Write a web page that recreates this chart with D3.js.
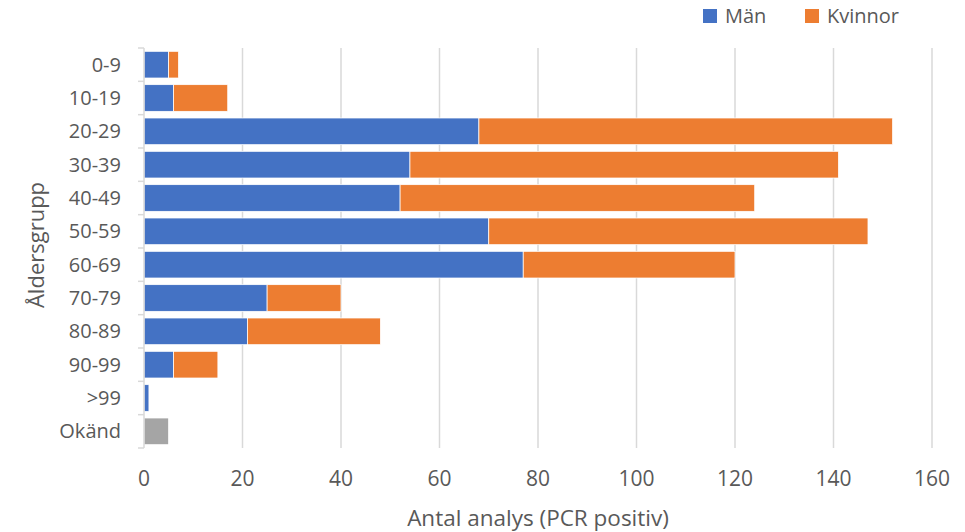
<!DOCTYPE html>
<html>
<head>
<meta charset="utf-8">
<script src="https://cdn.jsdelivr.net/npm/d3@7"></script>
<style>
  body { margin: 0; background: #fff; }
  svg { font-family: "Open Sans", sans-serif; }
</style>
</head>
<body>
<svg id="chart" width="965" height="532"></svg>
<script>
var categories = ["0-9", "10-19", "20-29", "30-39", "40-49", "50-59", "60-69", "70-79", "80-89", "90-99", ">99", "Okänd"];
var man     = [5, 6, 68, 54, 52, 70, 77, 25, 21, 6, 1, 0];
var kvinnor = [2, 11, 84, 87, 72, 77, 43, 15, 27, 9, 0, 0];
var okand   = [0, 0, 0, 0, 0, 0, 0, 0, 0, 0, 0, 5];
var xTicks  = [0, 20, 40, 60, 80, 100, 120, 140, 160];

(function() {
  var svg = d3.select("#chart");
  var plotLeft = 144, plotRight = 932, plotTop = 48, plotBottom = 448;
  var textColor = "#595959", gridColor = "#d9d9d9";

  var x = d3.scaleLinear().domain([0, 160]).range([plotLeft, plotRight]);
  var y = d3.scaleBand().domain(categories).range([plotTop, plotBottom])
    .paddingInner(0.2).paddingOuter(0.1);

  // gridlines
  svg.append("g").selectAll("line")
    .data(xTicks.slice(1))
    .enter().append("line")
    .attr("x1", function(d) { return x(d); })
    .attr("x2", function(d) { return x(d); })
    .attr("y1", plotTop).attr("y2", plotBottom)
    .attr("stroke", gridColor).attr("stroke-width", 1.5);

  // rows for stacking
  var rows = categories.map(function(c, i) {
    return { cat: c, "Män": man[i], "Kvinnor": kvinnor[i], "Okänd": okand[i] };
  });
  var keys = ["Män", "Kvinnor", "Okänd"];
  var colors = { "Män": "#4472c4", "Kvinnor": "#ed7d31", "Okänd": "#a5a5a5" };
  var stack = d3.stack().keys(keys)(rows);

  svg.append("g").selectAll("g")
    .data(stack)
    .enter().append("g")
    .attr("fill", function(s) { return colors[s.key]; })
    .selectAll("rect")
    .data(function(s) { return s.filter(function(d) { return d[1] > d[0]; }); })
    .enter().append("rect")
    .attr("x", function(d) { return x(d[0]); })
    .attr("width", function(d) { return x(d[1]) - x(d[0]); })
    .attr("y", function(d) { return y(d.data.cat); })
    .attr("height", y.bandwidth())
    .attr("stroke", "#fff").attr("stroke-width", 0.75);

  // y axis line and tick marks at band boundaries
  var yAxis = svg.append("g");
  yAxis.append("line")
    .attr("x1", plotLeft).attr("x2", plotLeft)
    .attr("y1", plotTop).attr("y2", plotBottom)
    .attr("stroke", gridColor).attr("stroke-width", 1.5);
  var bounds = d3.range(categories.length + 1).map(function(i) { return plotTop + i * y.step(); });
  yAxis.selectAll("line.tick")
    .data(bounds)
    .enter().append("line")
    .attr("class", "tick")
    .attr("x1", plotLeft - 6).attr("x2", plotLeft)
    .attr("y1", function(d) { return d; }).attr("y2", function(d) { return d; })
    .attr("stroke", gridColor).attr("stroke-width", 1.5);
  yAxis.selectAll("text")
    .data(categories)
    .enter().append("text")
    .attr("x", 121)
    .attr("y", function(d) { return y(d) + y.bandwidth() / 2; })
    .attr("dy", "0.35em")
    .attr("text-anchor", "end")
    .attr("font-size", 20)
    .attr("fill", textColor)
    .text(function(d) { return d; });

  // x tick labels
  svg.append("g").selectAll("text")
    .data(xTicks)
    .enter().append("text")
    .attr("x", function(d) { return x(d); })
    .attr("y", 486)
    .attr("text-anchor", "middle")
    .attr("font-size", 21)
    .attr("fill", textColor)
    .text(function(d) { return d; });

  // axis titles
  svg.append("text")
    .attr("x", 538).attr("y", 526)
    .attr("text-anchor", "middle")
    .attr("font-size", 22.5)
    .attr("fill", textColor)
    .text("Antal analys (PCR positiv)");

  svg.append("text")
    .attr("transform", "translate(36,245) rotate(-90)")
    .attr("dy", "0.35em")
    .attr("text-anchor", "middle")
    .attr("font-size", 22)
    .attr("fill", textColor)
    .text("Åldersgrupp");

  // legend
  var legend = [{ key: "Män", x: 703 }, { key: "Kvinnor", x: 805 }];
  var lg = svg.append("g").selectAll("g")
    .data(legend)
    .enter().append("g")
    .attr("transform", function(d) { return "translate(" + d.x + ",9)"; });
  lg.append("rect")
    .attr("width", 14).attr("height", 14)
    .attr("fill", function(d) { return colors[d.key]; });
  lg.append("text")
    .attr("x", 22).attr("y", 7)
    .attr("dy", "0.35em")
    .attr("font-size", 20)
    .attr("fill", textColor)
    .text(function(d) { return d.key; });
})();
</script>
</body>
</html>
